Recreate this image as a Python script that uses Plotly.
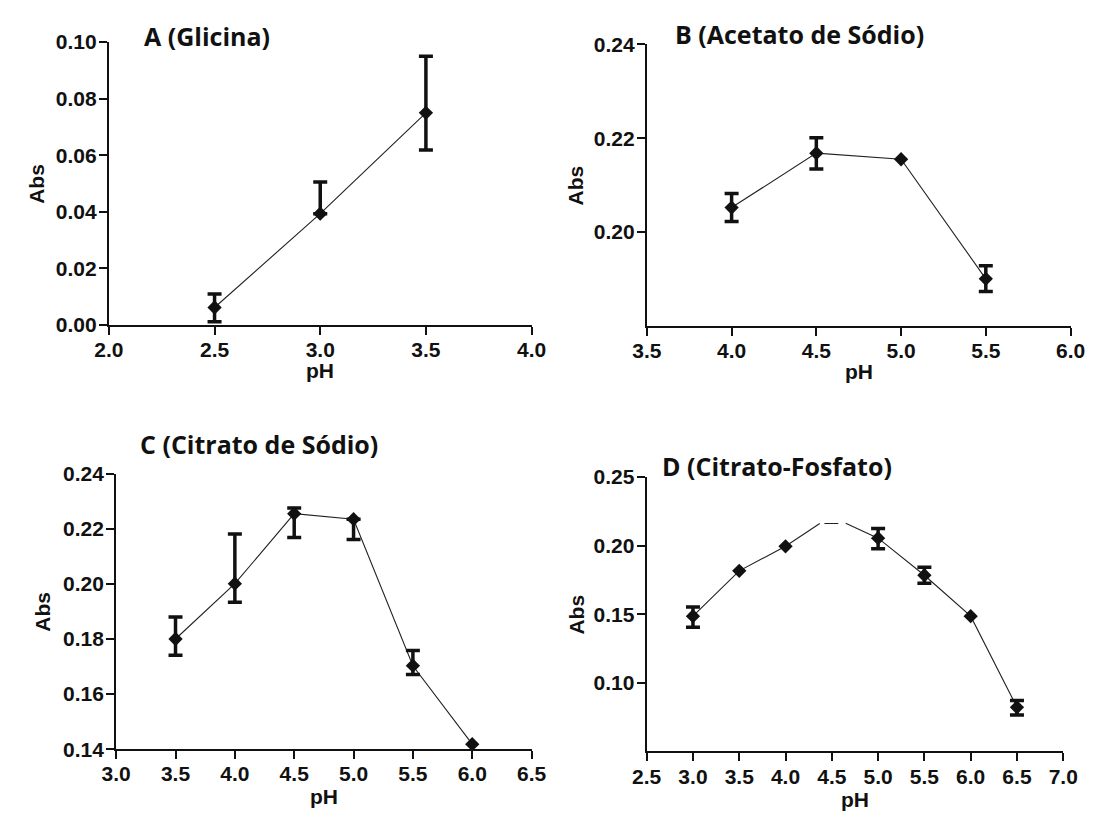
import plotly.graph_objects as go

# ---------------- data ----------------
ph_A = [2.5, 3.0, 3.5]
abs_A = [0.0061, 0.0393, 0.0750]
up_A = [0.0048, 0.0112, 0.0200]
dn_A = [0.0050, 0.0, 0.0132]

ph_B = [4.0, 4.5, 5.0, 5.5]
abs_B = [0.2052, 0.2168, 0.2155, 0.1900]
up_B = [0.0030, 0.0033, None, 0.0028]
dn_B = [0.0030, 0.0034, None, 0.0027]

ph_C = [3.5, 4.0, 4.5, 5.0, 5.5, 6.0]
abs_C = [0.1800, 0.2001, 0.2255, 0.2235, 0.1703, 0.1418]
up_C = [0.0080, 0.0180, 0.0021, 0.0, 0.0055, None]
dn_C = [0.0059, 0.0068, 0.0086, 0.0074, 0.0032, None]

ph_D = [3.0, 3.5, 4.0, 5.0, 5.5, 6.0, 6.5]
abs_D = [0.1486, 0.1816, 0.1995, 0.2054, 0.1784, 0.1486, 0.0822]
up_D = [0.0067, None, None, 0.0070, 0.0059, None, 0.0049]
dn_D = [0.0080, None, None, 0.0077, 0.0059, None, 0.0056]
# connecting line of panel D as drawn (broken around pH 4.5)
line_D_x = [3.0, 3.5, 4.0, 4.37, None, 4.42, 4.57, None, 4.65, 5.0, 5.5, 6.0, 6.5]
line_D_y = [0.1486, 0.1816, 0.1995, 0.2161, None, 0.2161, 0.2161, None, 0.2163, 0.2054, 0.1784, 0.1486, 0.0822]

titles = ["A (Glicina)", "B (Acetato de Sódio)", "C (Citrato de Sódio)", "D (Citrato-Fosfato)"]
x_label = "pH"
y_label = "Abs"

# ---------------- layout geometry ----------------
W, H = 1105, 825
px = lambda v: v / W
py = lambda v: 1 - v / H

panels = [
    dict(x=ph_A, y=abs_A, up=up_A, dn=dn_A, lx=ph_A, ly=abs_A,
         xdom=(96.5, 531), ydom=(321.7, 31), xr=[2.0, 4.0], yr=[0, 0.10],
         ytv=[0, 0.02, 0.04, 0.06, 0.08, 0.10],
         title_c=(197, 25), abs_x=22, ph_y=369),
    dict(x=ph_B, y=abs_B, up=up_B, dn=dn_B, lx=ph_B, ly=abs_B,
         xdom=(649.5, 1085), ydom=(322.7, 33.3), xr=[3.5, 6.0], yr=[0.18, 0.24],
         ytv=[0.20, 0.22, 0.24],
         title_c=(806, 23), abs_x=576, ph_y=370),
    dict(x=ph_C, y=abs_C, up=up_C, dn=dn_C, lx=ph_C, ly=abs_C,
         xdom=(104, 531), ydom=(758.3, 475), xr=[3.0, 6.5], yr=[0.14, 0.24],
         ytv=[0.14, 0.16, 0.18, 0.20, 0.22, 0.24],
         title_c=(251, 444), abs_x=28, ph_y=807),
    dict(x=ph_D, y=abs_D, up=up_D, dn=dn_D, lx=line_D_x, ly=line_D_y,
         xdom=(649.3, 1077.5), ydom=(760.7, 478.3), xr=[2.5, 7.0], yr=[0.05, 0.25],
         ytv=[0.10, 0.15, 0.20, 0.25],
         title_c=(783, 467), abs_x=577, ph_y=810),
]

INK = "#111111"
TICKFONT = dict(family="Liberation Sans", size=21, color=INK, weight="bold")
LABFONT = dict(family="Liberation Sans", size=21, color=INK, weight="bold")
TITLEFONT = dict(family="Open Sans", size=25, color=INK, weight="bold")

fig = go.Figure()
annotations = []

for i, p in enumerate(panels):
    n = "" if i == 0 else str(i + 1)
    xa, ya = "x" + n, "y" + n
    # connecting line
    fig.add_trace(go.Scatter(x=p["lx"], y=p["ly"], xaxis=xa, yaxis=ya, mode="lines",
                             line=dict(color="#222222", width=1.1), connectgaps=False,
                             showlegend=False, hoverinfo="skip", cliponaxis=False))
    # points with error bars
    idx_e = [k for k in range(len(p["x"])) if p["up"][k] is not None]
    idx_n = [k for k in range(len(p["x"])) if p["up"][k] is None]
    if idx_e:
        fig.add_trace(go.Scatter(
            x=[p["x"][k] for k in idx_e], y=[p["y"][k] for k in idx_e],
            xaxis=xa, yaxis=ya, mode="markers",
            marker=dict(symbol="diamond", size=11, color=INK),
            error_y=dict(type="data", symmetric=False,
                         array=[p["up"][k] for k in idx_e],
                         arrayminus=[p["dn"][k] for k in idx_e],
                         color=INK, thickness=3.5, width=7),
            showlegend=False, cliponaxis=False))
    if idx_n:
        fig.add_trace(go.Scatter(
            x=[p["x"][k] for k in idx_n], y=[p["y"][k] for k in idx_n],
            xaxis=xa, yaxis=ya, mode="markers",
            marker=dict(symbol="diamond", size=11, color=INK),
            showlegend=False, cliponaxis=False))

    x0, x1 = p["xdom"]
    yb, yt = p["ydom"]
    fig.layout["xaxis" + n] = dict(
        domain=[px(x0), px(x1)], range=p["xr"], anchor=ya,
        tickmode="linear", tick0=p["xr"][0], dtick=0.5, tickformat=".1f",
        showline=True, linewidth=2, linecolor=INK, ticks="outside", ticklen=8,
        tickwidth=2, tickcolor=INK, showgrid=False, zeroline=False,
        tickfont=TICKFONT, ticklabelstandoff=-3, fixedrange=True)
    fig.layout["yaxis" + n] = dict(
        domain=[py(yb), py(yt)], range=p["yr"], anchor=xa,
        tickmode="array", tickvals=p["ytv"], tickformat=".2f",
        showline=True, linewidth=2, linecolor=INK, ticks="outside", ticklen=8,
        tickwidth=2, tickcolor=INK, showgrid=False, zeroline=False,
        tickfont=TICKFONT, ticklabelstandoff=-2, fixedrange=True)

    annotations.append(dict(text=titles[i], x=px(p["title_c"][0]), y=py(p["title_c"][1]),
                            xref="paper", yref="paper", xanchor="center", yanchor="middle",
                            showarrow=False, font=TITLEFONT))
    annotations.append(dict(text=y_label, x=px(p["abs_x"]), y=py((yb + yt) / 2),
                            xref="paper", yref="paper", xanchor="center", yanchor="middle",
                            textangle=-90, showarrow=False, font=LABFONT))
    annotations.append(dict(text=x_label, x=px((x0 + x1) / 2), y=py(p["ph_y"]),
                            xref="paper", yref="paper", xanchor="center", yanchor="middle",
                            showarrow=False, font=LABFONT))

fig.update_layout(width=W, height=H, margin=dict(l=0, r=0, t=0, b=0),
                  paper_bgcolor="white", plot_bgcolor="white",
                  annotations=annotations, showlegend=False)

fig.write_html("out.html")
